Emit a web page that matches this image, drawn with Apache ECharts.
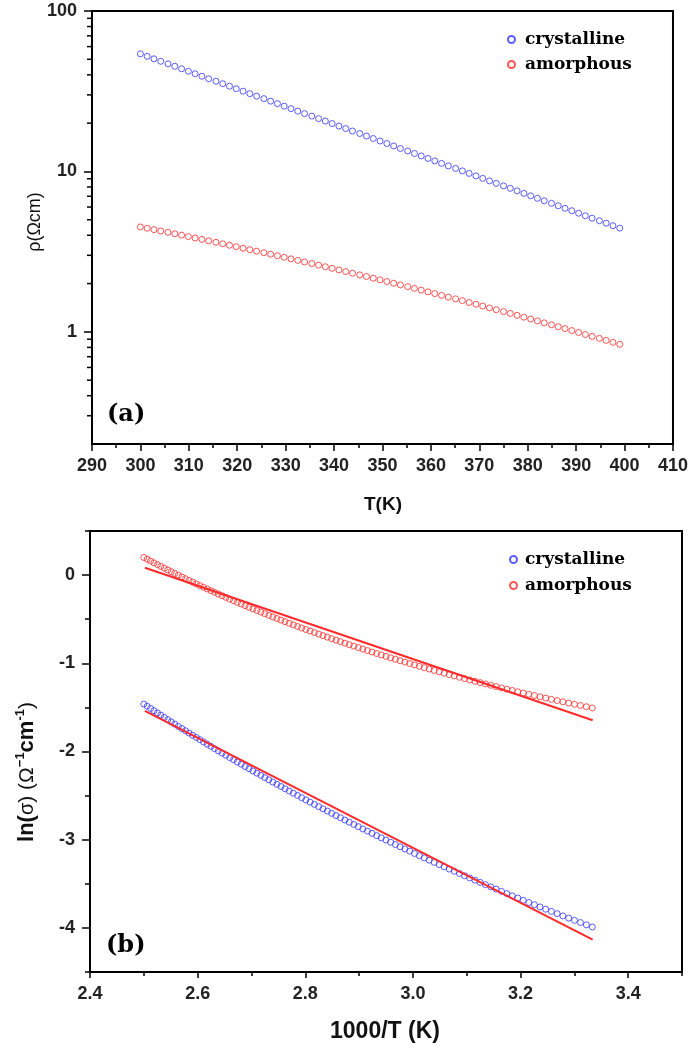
<!DOCTYPE html>
<html>
<head>
<meta charset="utf-8">
<script src="https://cdn.jsdelivr.net/npm/echarts@6/dist/echarts.min.js"></script>
<style>
html,body{margin:0;padding:0;background:#fff;}
#chart{width:691px;height:1053px;}
</style>
</head>
<body>
<div id="chart"></div>
<script>
// ---------- Panel (a): resistivity vs temperature ----------
const tempA = [300.0,301.4,302.8,304.2,305.7,307.1,308.5,309.9,311.3,312.7,314.1,315.6,317.0,318.4,319.8,321.2,322.6,324.0,325.5,326.9,328.3,329.7,331.1,332.5,333.9,335.4,336.8,338.2,339.6,341.0,342.4,343.8,345.3,346.7,348.1,349.5,350.9,352.3,353.7,355.2,356.6,358.0,359.4,360.8,362.2,363.6,365.1,366.5,367.9,369.3,370.7,372.1,373.5,375.0,376.4,377.8,379.2,380.6,382.0,383.4,384.9,386.3,387.7,389.1,390.5,391.9,393.3,394.8,396.2,397.6,399.0];
const rhoCrystalline = [54.08,52.18,50.35,48.58,46.87,45.23,43.64,42.11,40.63,39.20,37.83,36.50,35.22,33.98,32.79,31.64,30.53,29.45,28.42,27.42,26.46,25.53,24.63,23.77,22.93,22.13,21.35,20.60,19.88,19.18,18.51,17.86,17.23,16.62,16.04,15.48,14.93,14.41,13.90,13.41,12.94,12.49,12.05,11.63,11.22,10.82,10.44,10.08,9.72,9.38,9.05,8.73,8.43,8.13,7.85,7.57,7.30,7.05,6.80,6.56,6.33,6.11,5.89,5.69,5.49,5.29,5.11,4.93,4.76,4.59,4.43];
const rhoAmorphous = [4.508,4.422,4.336,4.252,4.169,4.087,4.006,3.926,3.847,3.769,3.692,3.616,3.541,3.467,3.395,3.323,3.253,3.183,3.115,3.048,2.982,2.916,2.852,2.789,2.727,2.666,2.606,2.547,2.489,2.432,2.376,2.320,2.266,2.213,2.161,2.109,2.059,2.010,1.961,1.913,1.867,1.821,1.776,1.732,1.689,1.647,1.606,1.565,1.525,1.486,1.448,1.410,1.374,1.338,1.303,1.268,1.235,1.202,1.170,1.138,1.107,1.077,1.048,1.019,0.991,0.963,0.937,0.911,0.885,0.860,0.836];

// ---------- Panel (b): ln(sigma) vs 1000/T ----------
const invT = [3.3333,3.3223,3.3113,3.3003,3.2895,3.2787,3.2680,3.2573,3.2468,3.2362,3.2258,3.2154,3.2051,3.1949,3.1847,3.1746,3.1646,3.1546,3.1447,3.1348,3.1250,3.1153,3.1056,3.0960,3.0864,3.0769,3.0675,3.0581,3.0488,3.0395,3.0303,3.0211,3.0120,3.0030,2.9940,2.9851,2.9762,2.9674,2.9586,2.9499,2.9412,2.9326,2.9240,2.9155,2.9070,2.8986,2.8902,2.8818,2.8736,2.8653,2.8571,2.8490,2.8409,2.8329,2.8249,2.8169,2.8090,2.8011,2.7933,2.7855,2.7778,2.7701,2.7624,2.7548,2.7473,2.7397,2.7322,2.7248,2.7174,2.7100,2.7027,2.6954,2.6882,2.6810,2.6738,2.6667,2.6596,2.6525,2.6455,2.6385,2.6316,2.6247,2.6178,2.6110,2.6042,2.5974,2.5907,2.5840,2.5773,2.5707,2.5641,2.5575,2.5510,2.5445,2.5381,2.5316,2.5253,2.5189,2.5126,2.5063,2.5000];
const lnSigmaCrystalline = [-3.990,-3.965,-3.939,-3.914,-3.889,-3.864,-3.838,-3.813,-3.788,-3.762,-3.737,-3.712,-3.687,-3.661,-3.636,-3.611,-3.586,-3.560,-3.535,-3.510,-3.484,-3.459,-3.434,-3.409,-3.383,-3.358,-3.333,-3.307,-3.282,-3.257,-3.232,-3.206,-3.181,-3.156,-3.130,-3.105,-3.080,-3.055,-3.029,-3.004,-2.979,-2.954,-2.928,-2.903,-2.878,-2.852,-2.827,-2.802,-2.777,-2.751,-2.726,-2.701,-2.675,-2.650,-2.625,-2.600,-2.574,-2.549,-2.524,-2.498,-2.473,-2.448,-2.423,-2.397,-2.372,-2.347,-2.321,-2.296,-2.271,-2.246,-2.220,-2.195,-2.170,-2.144,-2.119,-2.094,-2.069,-2.043,-2.018,-1.993,-1.968,-1.942,-1.917,-1.892,-1.866,-1.841,-1.816,-1.791,-1.765,-1.740,-1.715,-1.689,-1.664,-1.639,-1.614,-1.588,-1.563,-1.538,-1.512,-1.487,-1.462];
const lnSigmaAmorphous = [-1.5059,-1.4922,-1.4784,-1.4646,-1.4507,-1.4368,-1.4227,-1.4086,-1.3944,-1.3802,-1.3659,-1.3515,-1.3371,-1.3226,-1.3080,-1.2934,-1.2787,-1.2639,-1.2491,-1.2341,-1.2191,-1.2041,-1.1889,-1.1738,-1.1585,-1.1432,-1.1278,-1.1123,-1.0968,-1.0812,-1.0655,-1.0498,-1.0340,-1.0181,-1.0022,-0.9862,-0.9701,-0.9540,-0.9378,-0.9215,-0.9051,-0.8887,-0.8722,-0.8557,-0.8391,-0.8224,-0.8056,-0.7888,-0.7719,-0.7549,-0.7379,-0.7208,-0.7037,-0.6864,-0.6691,-0.6518,-0.6343,-0.6168,-0.5993,-0.5816,-0.5639,-0.5461,-0.5283,-0.5104,-0.4924,-0.4744,-0.4562,-0.4380,-0.4198,-0.4015,-0.3831,-0.3646,-0.3461,-0.3276,-0.3089,-0.2902,-0.2714,-0.2525,-0.2336,-0.2146,-0.1955,-0.1764,-0.1572,-0.1379,-0.1186,-0.0991,-0.0796,-0.0601,-0.0405,-0.0208,-0.0011,0.0187,0.0386,0.0585,0.0786,0.0987,0.1188,0.1391,0.1594,0.1797,0.2001];
const fitX = [2.502, 3.334];
const fitAmorphous = [0.083, -1.645];
const fitCrystalline = [-1.540, -4.134];

// ---------- ticks ----------
const logMajorTicks = [1, 10, 100];
const logMinorTicks = [0.3,0.4,0.5,0.6,0.7,0.8,0.9,2,3,4,5,6,7,8,9,20,30,40,50,60,70,80,90];
const lnMajorTicks = [-4,-3,-2,-1,0];
const lnMinorTicks = [-4.5,-3.5,-2.5,-1.5,-0.5,0.5];
const invTMajorTicks = [2.4,2.6,2.8,3.0,3.2,3.4];
const invTMinorTicks = [2.5,2.7,2.9,3.1,3.3,3.5];
const seriesNames = ['crystalline', 'amorphous'];

const BLUE = '#3535ff';
const RED = '#ff2a2a';
const SANS = '"Liberation Sans", Arial, sans-serif';
const SERIF = '"DejaVu Serif", serif';

const tickLabel = {fontFamily: SANS, fontWeight: 'bold', fontSize: 18, color: '#222'};
const axisLine = {show: true, onZero: false, lineStyle: {color: '#000', width: 2}};

const zip = (xs, ys) => xs.map((x, i) => [x, ys[i]]);
const hollow = c => ({color: 'transparent', borderColor: c, borderWidth: 1});

const chart = echarts.init(document.getElementById('chart'), null, {renderer: 'canvas'});

const option = {
  animation: false,
  backgroundColor: '#fff',
  grid: [
    {left: 92, top: 11, width: 581, height: 433, show: true, borderColor: '#000', borderWidth: 2, backgroundColor: 'transparent'},
    {left: 90, top: 531, width: 592, height: 441, show: true, borderColor: '#000', borderWidth: 2, backgroundColor: 'transparent'}
  ],
  xAxis: [
    {type: 'value', gridIndex: 0, min: 290, max: 410, interval: 10, position: 'bottom',
     axisLine, axisTick: {length: 7, lineStyle: {color: '#000', width: 1.5}},
     minorTick: {show: true, splitNumber: 2, length: 4, lineStyle: {color: '#000', width: 1.5}},
     axisLabel: Object.assign({margin: 13}, tickLabel), splitLine: {show: false}},
    {type: 'value', gridIndex: 1, min: 2.4, max: 3.5, position: 'bottom',
     axisLine, axisTick: {length: 6, customValues: invTMajorTicks, lineStyle: {color: '#000', width: 1.5}},
     axisLabel: Object.assign({margin: 13, customValues: invTMajorTicks, formatter: v => Number(v).toFixed(1)}, tickLabel),
     splitLine: {show: false}},
    {type: 'value', gridIndex: 1, min: 2.4, max: 3.5, position: 'bottom', offset: 0,
     axisLine: {show: false, onZero: false}, axisTick: {length: 4, customValues: invTMinorTicks, lineStyle: {color: '#000', width: 1.5}},
     axisLabel: {show: false}, splitLine: {show: false}}
  ],
  yAxis: [
    {type: 'log', gridIndex: 0, logBase: 10, min: 0.2, max: 100, position: 'left',
     axisLine, axisTick: {length: 8, lineStyle: {color: '#000', width: 1.5}},
     axisLabel: Object.assign({margin: 15, showMinLabel: false,
       formatter: v => {const r = Math.round(v); return (logMajorTicks.indexOf(r) >= 0 && Math.abs(v - r) < 1e-6) ? String(r) : '';}}, tickLabel),
     splitLine: {show: false}, minorTick: {show: false}},
    {type: 'value', gridIndex: 1, min: -4.5, max: 0.5, position: 'left',
     axisLine, axisTick: {length: 8, customValues: lnMajorTicks, lineStyle: {color: '#000', width: 1.5}},
     axisLabel: Object.assign({margin: 15, customValues: lnMajorTicks, formatter: v => String(Math.round(v))}, tickLabel),
     splitLine: {show: false}},
    {type: 'value', gridIndex: 1, min: -4.5, max: 0.5, position: 'left', offset: 0,
     axisLine: {show: false, onZero: false}, axisTick: {length: 5, customValues: lnMinorTicks, lineStyle: {color: '#000', width: 1.5}},
     axisLabel: {show: false}, splitLine: {show: false}}
  ],
  legend: [
    {data: seriesNames, orient: 'vertical', left: 502, top: 26, itemGap: 8, itemWidth: 7, itemHeight: 7,
     icon: 'circle', selectedMode: false,
     textStyle: {fontFamily: SERIF, fontWeight: 'bold', fontSize: 17, color: '#000', padding: [0, 0, 0, 5]}},
    {data: seriesNames, orient: 'vertical', left: 504, top: 546, itemGap: 9, itemWidth: 7, itemHeight: 7,
     icon: 'circle', selectedMode: false,
     textStyle: {fontFamily: SERIF, fontWeight: 'bold', fontSize: 17, color: '#000', padding: [0, 0, 0, 3]}}
  ],
  series: [
    {name: 'crystalline', type: 'scatter', xAxisIndex: 0, yAxisIndex: 0, symbol: 'circle', symbolSize: 6,
     itemStyle: hollow(BLUE), data: zip(tempA, rhoCrystalline)},
    {name: 'amorphous', type: 'scatter', xAxisIndex: 0, yAxisIndex: 0, symbol: 'circle', symbolSize: 6,
     itemStyle: hollow(RED), data: zip(tempA, rhoAmorphous)},
    {name: 'logMinorTicks', type: 'custom', xAxisIndex: 0, yAxisIndex: 0, silent: true, clip: false,
     data: logMinorTicks.map(v => [290, v]),
     renderItem: (params, api) => {
       const p = api.coord([api.value(0), api.value(1)]);
       return {type: 'line', shape: {x1: p[0] - 5, y1: p[1], x2: p[0], y2: p[1]}, style: {stroke: '#000', lineWidth: 1.5}};
     }},
    {name: 'crystalline', type: 'scatter', xAxisIndex: 1, yAxisIndex: 1, symbol: 'circle', symbolSize: 6,
     itemStyle: hollow(BLUE), data: zip(invT, lnSigmaCrystalline), z: 2},
    {name: 'amorphous', type: 'scatter', xAxisIndex: 1, yAxisIndex: 1, symbol: 'circle', symbolSize: 6,
     itemStyle: hollow(RED), data: zip(invT, lnSigmaAmorphous), z: 2},
    {name: 'fit amorphous', type: 'line', xAxisIndex: 1, yAxisIndex: 1, showSymbol: false, symbol: 'none',
     lineStyle: {color: RED, width: 2}, data: zip(fitX, fitAmorphous), z: 3},
    {name: 'fit crystalline', type: 'line', xAxisIndex: 1, yAxisIndex: 1, showSymbol: false, symbol: 'none',
     lineStyle: {color: RED, width: 2}, data: zip(fitX, fitCrystalline), z: 3}
  ],
  graphic: [
    {type: 'text', x: 383, y: 505, style: {text: 'T(K)', font: 'bold 19px ' + SANS, fill: '#111', align: 'center', verticalAlign: 'middle'}},
    {type: 'text', x: 35, y: 222, rotation: Math.PI / 2,
     style: {text: 'ρ(Ωcm)', font: '18px ' + SANS, fill: '#111', align: 'center', verticalAlign: 'middle'}},
    {type: 'text', x: 385, y: 1032, style: {text: '1000/T (K)', font: 'bold 23px ' + SANS, fill: '#111', align: 'center', verticalAlign: 'middle'}},
    {type: 'text', x: 27, y: 772, rotation: Math.PI / 2,
     style: {text: '{b|ln(}{s|σ}{r|) (Ω}{sup|−1}{b|cm}{sup|-1}{r|)}', align: 'center', verticalAlign: 'middle',
       rich: {
         b: {font: 'bold 22px ' + SANS, fill: '#111', lineHeight: 26},
         r: {font: '21px ' + SANS, fill: '#111', lineHeight: 26},
         s: {font: '20px ' + SANS, fill: '#111', lineHeight: 26},
         sup: {font: 'bold 13px ' + SANS, fill: '#111', verticalAlign: 'top', lineHeight: 26}
       }}},
    {type: 'text', x: 107, y: 415, style: {text: '(a)', font: 'bold 24px ' + SERIF, fill: '#000', align: 'left', verticalAlign: 'middle'}},
    {type: 'text', x: 106, y: 946, style: {text: '(b)', font: 'bold 24px ' + SERIF, fill: '#000', align: 'left', verticalAlign: 'middle'}}
  ]
};
chart.setOption(option);
</script>
</body>
</html>
